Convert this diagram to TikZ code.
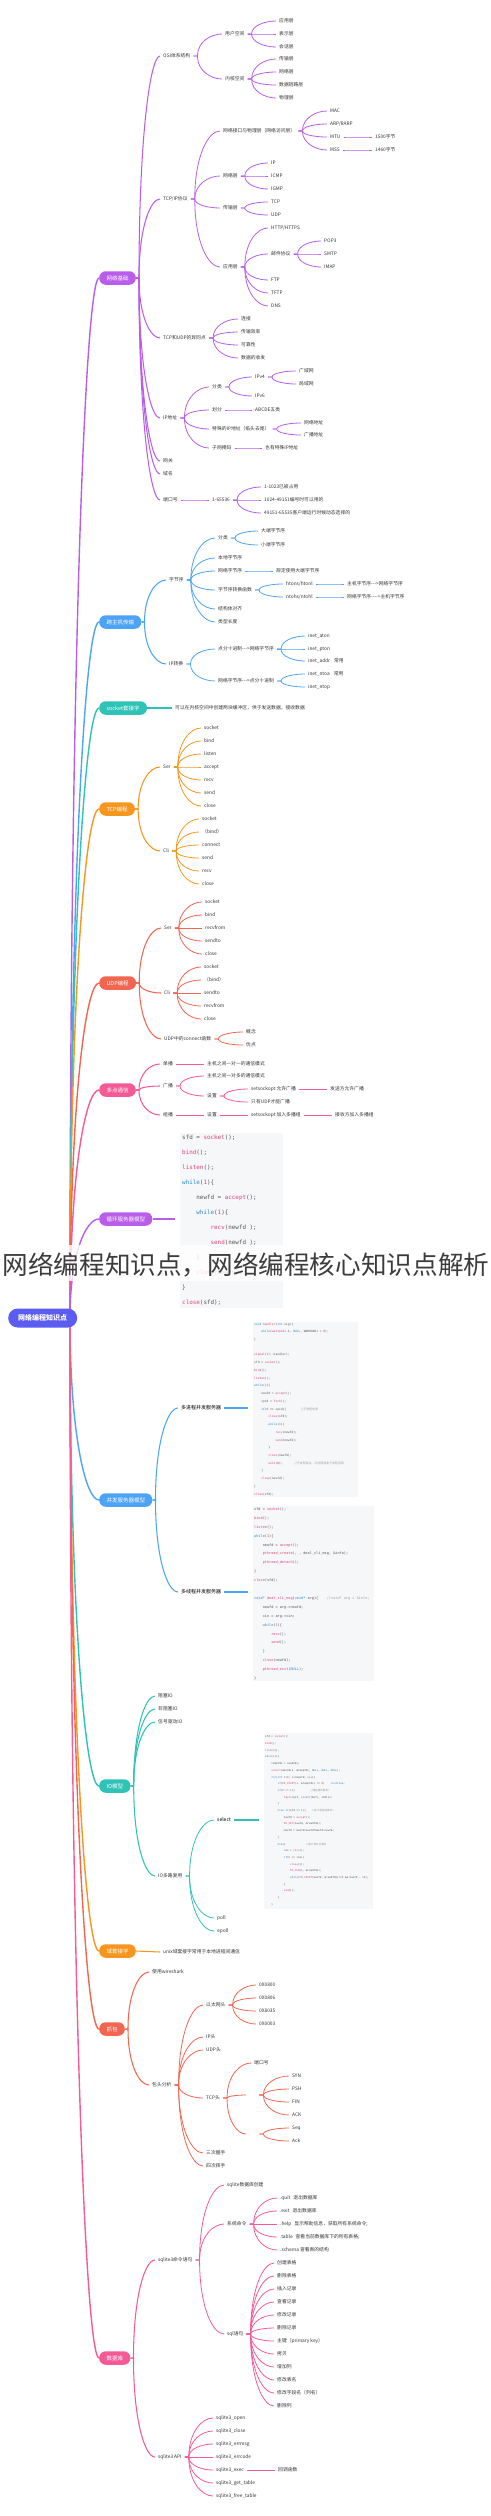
\documentclass[tikz,border=0pt]{standalone}
\usepackage{fontspec}
\setmainfont{Noto Sans CJK SC}
\setmonofont{DejaVu Sans Mono}
\newfontfamily\cjk{Noto Sans CJK SC}
\usetikzlibrary{calc}
\definecolor{cA}{HTML}{B95EEA}
\definecolor{cB}{HTML}{4DA3F7}
\definecolor{cC}{HTML}{2FC2B6}
\definecolor{cD}{HTML}{F7961E}
\definecolor{cE}{HTML}{F26550}
\definecolor{cF}{HTML}{F55A97}
\definecolor{croot}{HTML}{5C5CF2}
\definecolor{txt}{HTML}{333333}
\definecolor{codebg}{HTML}{F6F7F9}
\definecolor{ctx}{HTML}{555555}
\definecolor{cfnc}{HTML}{E2416F}
\definecolor{ckwc}{HTML}{2C8AC8}
\definecolor{ccmc}{HTML}{A0A0A0}
\definecolor{ttl}{HTML}{3C3C3C}
\newcommand\lfs{\fontsize{4.8}{5.5}\selectfont}
\newcommand\cfn[1]{\textcolor{cfnc}{#1}}
\newcommand\ckw[1]{\textcolor{ckwc}{#1}}
\newcommand\ccm[1]{\textcolor{ccmc}{\cjk #1}}
\newcommand\tbi{\hspace*{2.408em}}
\newcommand\cn[2]{\draw[ln] (#1.east) -- ++(4,0) to[br] (#2.west);}
\newcommand\cnm[2]{\draw[ln1] (#1.east) -- ++(3,0) to[br] (#2.west);}
\begin{document}
\begin{tikzpicture}[x=1pt,y=-1pt,
  lf/.style={anchor=west, inner xsep=3pt, inner ysep=1pt, font=\lfs, text=txt},
  bl/.style={lf, font=\fontsize{5}{5.5}\selectfont, text=black},
  mn/.style={anchor=west, fill=#1, text=white, rounded corners=6.5pt, minimum height=13.5pt, inner xsep=7.3pt, inner ysep=0pt, font=\fontsize{5.5}{6}\selectfont},
  br/.style={to path={let \p1=(\tikztostart), \p2=(\tikztotarget) in .. controls (\x1,{(\y2)+0.35*((\y1)-(\y2))}) and ({(\x1)+0.55*((\x2)-(\x1))},\y2) .. (\tikztotarget) \tikztonodes}},
  branch/.style={ln/.style={draw=#1, line width=.8pt}, ln1/.style={draw=#1, line width=1.05pt}, mainln/.style={draw=#1, line width=1.4pt}},
  cbg/.style={fill=codebg, anchor=north west, inner sep=0pt},
  code/.style={anchor=north west, inner sep=0pt, align=left, text=ctx}
]
\useasboundingbox (0,0) rectangle (490,2516);
\coordinate (rootc) at (70,1318);

% ===== 网络基础 =====
\begin{scope}[branch=cA]
\node[mn=cA] (A) at (99,278) {网络基础};
\draw[mainln] (rootc) to[br] (A.west);
\node[lf] (A1) at (160,56) {OSI体系结构};
\node[lf] (A11) at (222,34) {用户空间};
\node[lf] (A12) at (222,79) {内核空间};
\cn{A1}{A11}\cn{A1}{A12}
\foreach \t [count=\i] in {应用层,表示层,会话层} {\node[lf] (A11\i) at (276,{8+13*\i}) {\t}; \cn{A11}{A11\i}}
\foreach \t [count=\i] in {传输层,网络层,数据链路层,物理层} {\node[lf] (A12\i) at (276,{46+13*\i}) {\t}; \cn{A12}{A12\i}}
\node[lf] (A2) at (160,199) {TCP/IP协议};
\node[lf] (A21) at (220,131) {网络接口与物理层（网络访问层）};
\foreach \t [count=\i] in {MAC,ARP/RARP,MTU,MSS} {\node[lf] (A21\i) at (327,{98+13*\i}) {\t}; \cn{A21}{A21\i}}
\node[lf] (A2x) at (372,137) {1500字节}; \cn{A213}{A2x}
\node[lf] (A2y) at (372,150) {1460字节}; \cn{A214}{A2y}
\node[lf] (A22) at (220,176) {网络层};
\foreach \t [count=\i] in {IP,ICMP,IGMP} {\node[lf] (A22\i) at (268,{150+13*\i}) {\t}; \cn{A22}{A22\i}}
\node[lf] (A23) at (220,208) {传输层};
\node[lf] (A231) at (268,202) {TCP}; \node[lf] (A232) at (268,215) {UDP};
\cn{A23}{A231}\cn{A23}{A232}
\node[lf] (A24) at (220,267) {应用层};
\node[lf] (A241) at (268,228) {HTTP/HTTPS};
\node[lf] (A242) at (268,254) {邮件协议};
\node[lf] (A243) at (268,280) {FTP};
\node[lf] (A244) at (268,293) {TFTP};
\node[lf] (A245) at (268,306) {DNS};
\foreach \i in {1,...,5} {\cn{A24}{A24\i}}
\foreach \t [count=\i] in {POP3,SMTP,IMAP} {\node[lf] (Am\i) at (321,{228+13*\i}) {\t}; \cn{A242}{Am\i}}
\cn{A2}{A21}\cn{A2}{A22}\cn{A2}{A23}\cn{A2}{A24}
\node[lf] (A3) at (160,338) {TCP和UDP的异同点};
\foreach \t [count=\i] in {连接,传输效率,可靠性,数据的收发} {\node[lf] (A3\i) at (238,{306+13*\i}) {\t}; \cn{A3}{A3\i}}
\node[lf] (A4) at (160,418) {IP地址};
\node[lf] (A41) at (209,387) {分类};
\node[lf] (A411) at (252,377) {IPv4};
\node[lf] (A412) at (252,396) {IPv6};
\node[lf] (Aw1) at (296,371) {广域网};
\node[lf] (Aw2) at (296,384) {局域网};
\cn{A41}{A411}\cn{A41}{A412}\cn{A411}{Aw1}\cn{A411}{Aw2}
\node[lf] (A42) at (209,410) {划分};
\node[lf] (A421) at (252,410) {ABCDE五类}; \cn{A42}{A421}
\node[lf] (A43) at (209,429) {特殊的IP地址（掐头去尾）};
\node[lf] (A431) at (301,423) {网络地址};
\node[lf] (A432) at (301,435) {广播地址};
\cn{A43}{A431}\cn{A43}{A432}
\node[lf] (A44) at (209,448) {子网掩码};
\node[lf] (A441) at (262,448) {也有特殊IP地址}; \cn{A44}{A441}
\foreach \i in {1,...,4} {\cn{A4}{A4\i}}
\node[lf] (A5) at (160,461) {网关};
\node[lf] (A6) at (160,474) {域名};
\node[lf] (A7) at (160,500) {端口号};
\node[lf] (A71) at (209,500) {1-65536}; \cn{A7}{A71}
\node[lf] (Ap1) at (261,487) {1-1023已被占用};
\node[lf] (Ap2) at (261,500) {1024-49151编号时可以用的};
\node[lf] (Ap3) at (261,513) {49151-65535客户端运行时候动态选择的};
\foreach \i in {1,2,3} {\cn{A71}{Ap\i}}
\foreach \i in {1,...,7} {\cnm{A}{A\i}}
\end{scope}

% ===== 跨主机传输 =====
\begin{scope}[branch=cB]
\node[mn=cB] (B) at (99,622) {跨主机传输};
\draw[mainln] (rootc) to[br] (B.west);
\node[lf] (B1) at (166,580) {字节序};
\node[lf] (B11) at (215,538) {分类};
\node[lf] (Bd1) at (258,531) {大端字节序};
\node[lf] (Bd2) at (258,545) {小端字节序};
\cn{B11}{Bd1}\cn{B11}{Bd2}
\node[lf] (B12) at (215,558) {本地字节序};
\node[lf] (B13) at (215,571) {网络字节序};
\node[lf] (B131) at (273,571) {规定使用大端字节序}; \cn{B13}{B131}
\node[lf] (B14) at (215,590) {字节序转换函数};
\node[lf] (Bh1) at (283,584) {htons/htonl};
\node[lf] (Bh2) at (283,597) {ntohs/ntohl};
\node[lf] (Bh3) at (344,584) {主机字节序-{}-{}->网络字节序};
\node[lf] (Bh4) at (344,597) {网络字节序-{}-{}-{}->主机字节序};
\cn{B14}{Bh1}\cn{B14}{Bh2}\cn{Bh1}{Bh3}\cn{Bh2}{Bh4}
\node[lf] (B15) at (215,609) {结构体对齐};
\node[lf] (B16) at (215,622) {类型长度};
\foreach \i in {1,...,6} {\cn{B1}{B1\i}}
\node[lf] (B2) at (166,664) {IP转换};
\node[lf] (B21) at (215,649) {点分十进制-{}-{}->网络字节序};
\node[lf] (B22) at (215,681) {网络字节序-{}-{}->点分十进制};
\cn{B2}{B21}\cn{B2}{B22}
\node[lf] (Bi1) at (305,636) {inet\_aton};
\node[lf] (Bi2) at (305,649) {inet\_pton};
\node[lf] (Bi3) at (305,661) {inet\_addr\hspace{4pt}常用};
\node[lf] (Bi4) at (305,674) {inet\_ntoa\hspace{4pt}常用};
\node[lf] (Bi5) at (305,687) {inet\_ntop};
\cn{B21}{Bi1}\cn{B21}{Bi2}\cn{B21}{Bi3}\cn{B22}{Bi4}\cn{B22}{Bi5}
\cnm{B}{B1}\cnm{B}{B2}
\end{scope}

% ===== socket =====
\begin{scope}[branch=cC]
\node[mn=cC] (C) at (99,708) {socket套接字};
\draw[mainln] (rootc) to[br] (C.west);
\node[lf] (C1) at (172,708) {可以在内核空间中创建两块缓冲区，供于发送数据，接收数据};
\draw[ln1] (C.east) -- (C1.west);
\end{scope}

% ===== TCP编程 =====
\begin{scope}[branch=cD]
\node[mn=cD] (D) at (99,809) {TCP编程};
\draw[mainln] (rootc) to[br] (D.west);
\node[lf] (D1) at (160,767) {Ser};
\node[lf] (D2) at (160,851) {Cli};
\cnm{D}{D1}\cnm{D}{D2}
\foreach \t [count=\i] in {socket,bind,listen,accept,recv,send,close} {\node[lf] (Ds\i) at (201,{715+13*\i}) {\t}; \cn{D1}{Ds\i}}
\foreach \t [count=\i] in {socket,（bind）,connect,send,recv,close} {\node[lf] (Dc\i) at (199,{806+13*\i}) {\t}; \cn{D2}{Dc\i}}
\end{scope}

% ===== UDP编程 =====
\begin{scope}[branch=cE]
\node[mn=cE] (E) at (99,983) {UDP编程};
\draw[mainln] (rootc) to[br] (E.west);
\node[lf] (E1) at (161,928) {Ser};
\node[lf] (E2) at (161,993) {Cli};
\node[lf] (E3) at (161,1039) {UDP中的connect函数};
\cnm{E}{E1}\cnm{E}{E2}\cnm{E}{E3}
\foreach \t [count=\i] in {socket,bind,recvfrom,sendto,close} {\node[lf] (Es\i) at (202,{889+13*\i}) {\t}; \cn{E1}{Es\i}}
\foreach \t [count=\i] in {socket,（bind）,sendto,recvfrom,close} {\node[lf] (Ec\i) at (201,{954+13*\i}) {\t}; \cn{E2}{Ec\i}}
\node[lf] (E31) at (243,1032) {概念};
\node[lf] (E32) at (243,1045) {优点};
\cn{E3}{E31}\cn{E3}{E32}
\end{scope}

% ===== 多点通信 =====
\begin{scope}[branch=cF]
\node[mn=cF] (F) at (99,1090) {多点通信};
\draw[mainln] (rootc) to[br] (F.west);
\node[lf] (F1) at (160,1064) {单播};
\node[lf] (F2) at (160,1086) {广播};
\node[lf] (F3) at (160,1115) {组播};
\cnm{F}{F1}\cnm{F}{F2}\cnm{F}{F3}
\node[lf] (F11) at (204,1064) {主机之间一对一的通信模式}; \cn{F1}{F11}
\node[lf] (F21) at (204,1076) {主机之间一对多的通信模式};
\node[lf] (F22) at (204,1096) {设置};
\cn{F2}{F21}\cn{F2}{F22}
\node[lf] (F221) at (248,1089) {setsockopt 允许广播};
\node[lf] (F222) at (248,1102) {只有UDP才能广播};
\cn{F22}{F221}\cn{F22}{F222}
\node[lf] (F2211) at (327,1089) {发送方允许广播}; \cn{F221}{F2211}
\node[lf] (F31) at (204,1115) {设置}; \cn{F3}{F31}
\node[lf] (F311) at (248,1115) {setsockopt 加入多播组}; \cn{F31}{F311}
\node[lf] (F3111) at (332,1115) {接收方加入多播组}; \cn{F311}{F3111}
\end{scope}

% ===== 循环服务器模型 =====
\begin{scope}[branch=cA]
\node[mn=cA] (G) at (99,1219) {循环服务器模型};
\draw[mainln] (rootc) to[br] (G.west);
\node[cbg, minimum width=103pt, minimum height=175pt] (cb1) at (180,1133) {};
\node[code, font=\fontsize{5.9}{15}\selectfont\ttfamily] (code1) at (182,1135) {%
sfd = \cfn{socket}();\\
\cfn{bind}();\\
\cfn{listen}();\\
\ckw{while}(\cfn{1})\{\\
\tbi newfd = \cfn{accept}();\\
\tbi\ckw{while}(\cfn{1})\{\\
\tbi\tbi\cfn{recv}(newfd );\\
\tbi\tbi\cfn{send}(newfd );\\
\tbi\}\\
\tbi\cfn{close}(newfd);\\
\}\\
\cfn{close}(sfd);};
\draw[ln1] (G.east) -- ([xshift=-5pt]G.east -| cb1.west);
\end{scope}

% ===== 并发服务器模型 =====
\begin{scope}[branch=cB]
\node[mn=cB] (H) at (99,1500) {并发服务器模型};
\draw[mainln] (rootc) to[br] (H.west);
\node[bl] (H1) at (178,1408) {多进程并发服务器};
\node[bl] (H2) at (178,1592) {多线程并发服务器};
\cnm{H}{H1}\cnm{H}{H2}
\node[cbg, minimum width=105pt, minimum height=175pt] (cb2) at (253,1322) {};
\node[code, font=\fontsize{2.95}{7.73}\selectfont\ttfamily] (code2) at (254,1322.6) {%
\ckw{void} \cfn{handler}(\ckw{int} sig)\{\\
\tbi\ckw{while}(\cfn{waitpid}(-1, \ckw{NULL}, WNOHANG) > \cfn{0});\\
\}\\
\mbox{}\\
\cfn{signal}(\cfn{17}, handler);\\
sfd = \cfn{socket}();\\
\cfn{bind}();\\
\cfn{listen}();\\
\ckw{while}(\cfn{1})\{\\
\tbi newfd = \cfn{accept}();\\
\tbi cpid = \cfn{fork}();\\
\tbi\ckw{if}(\cfn{0} == cpid)\{\hspace*{5em}\ccm{//子进程处理}\\
\tbi\tbi\cfn{close}(sfd);\\
\tbi\tbi\ckw{while}(\cfn{1})\{\\
\tbi\tbi\tbi\cfn{recv}(newfd);\\
\tbi\tbi\tbi\cfn{send}(newfd);\\
\tbi\tbi\}\\
\tbi\tbi\cfn{close}(newfd);\\
\tbi\tbi\cfn{exit}(\cfn{0});\hspace*{4em}\ccm{//子进程退出，父进程回收子进程资源}\\
\tbi\}\\
\tbi\cfn{close}(newfd);\\
\}\\
\cfn{close}(sfd);};
\draw[ln1] (H1.east) -- ([xshift=-5pt]H1.east -| cb2.west);
\node[cbg, minimum width=121pt, minimum height=175pt] (cb3) at (253,1506) {};
\node[code, font=\fontsize{3.55}{8.9}\selectfont\ttfamily] (code3) at (254,1507.5) {%
sfd = \cfn{socket}();\\
\cfn{bind}();\\
\cfn{listen}();\\
\ckw{while}(\cfn{1})\{\\
\tbi newfd = \cfn{accept}();\\
\tbi\cfn{pthread\_create}(, , deal\_cli\_msg, \&info);\\
\tbi\cfn{pthread\_detach}();\\
\}\\
\cfn{close}(sfd);\\
\mbox{}\\
\ckw{void*} \cfn{deal\_cli\_msg}(\ckw{void*} arg)\{\hspace*{2.4em}\textcolor{ccmc}{//void* arg = \&info;}\\
\tbi newfd = arg->newfd;\\
\tbi cin = arg->cin;\\
\tbi\ckw{while}(\cfn{1})\{\\
\tbi\tbi\cfn{recv}();\\
\tbi\tbi\cfn{send}();\\
\tbi\}\\
\tbi\cfn{close}(newfd);\\
\tbi\cfn{pthread\_exit}(\ckw{NULL});\\
\}};
\draw[ln1] (H2.east) -- ([xshift=-5pt]H2.east -| cb3.west);
\end{scope}

% ===== IO模型 =====
\begin{scope}[branch=cC]
\node[mn=cC] (I) at (99,1786) {IO模型};
\draw[mainln] (rootc) to[br] (I.west);
\node[lf] (I1) at (155,1696) {阻塞IO};
\node[lf] (I2) at (155,1709) {非阻塞IO};
\node[lf] (I3) at (155,1722) {信号驱动IO};
\node[lf] (I4) at (155,1876) {IO多路复用};
\foreach \i in {1,...,4} {\cnm{I}{I\i}}
\node[bl] (I41) at (214,1820) {select};
\node[lf] (I42) at (214,1918) {poll};
\node[lf] (I43) at (214,1931) {epoll};
\cn{I4}{I41}\cn{I4}{I42}\cn{I4}{I43}
\node[cbg, minimum width=109pt, minimum height=176pt] (cb4) at (264,1733) {};
\node[code, font=\fontsize{2.6}{6.7}\selectfont\ttfamily] (code4) at (265,1735.6) {%
sfd = \cfn{socket}();\\
\cfn{bind}();\\
\cfn{listen}();\\
\ckw{while}(\cfn{1})\{\\
\tbi tempfds = readfds;\\
\tbi\cfn{select}(maxfd+1, \&tempfds, \ckw{NULL}, \ckw{NULL}, \ckw{NULL});\\
\tbi\ckw{for}(\ckw{int} i=\cfn{0}; i<=maxfd; i++)\{\\
\tbi\tbi\ckw{if}(\cfn{FD\_ISSET}(i, \&tempfds) == \cfn{0})\hspace*{2.4em}\ckw{continue};\\
\tbi\tbi\ckw{if}(\cfn{0} == i)\{\hspace*{6em}\ccm{//键盘事件触发？}\\
\tbi\tbi\tbi\cfn{fgets}(buf, \ckw{sizeof}(buf), stdin);\\
\tbi\tbi\}\\
\tbi\tbi\ckw{else if}(sfd == i)\{\hspace*{2.4em}\ccm{//客户端连接事件？}\\
\tbi\tbi\tbi newfd = \cfn{accept}();\\
\tbi\tbi\tbi\cfn{FD\_SET}(newfd, \&readfds);\\
\tbi\tbi\tbi maxfd = maxfd>newfd?maxfd:newfd;\\
\tbi\tbi\}\\
\tbi\tbi\ckw{else}\{\hspace*{8em}\ccm{//客户端交互事件}\\
\tbi\tbi\tbi res = \cfn{recv}();\\
\tbi\tbi\tbi\ckw{if}(\cfn{0} == res)\{\\
\tbi\tbi\tbi\tbi\cfn{close}(i);\\
\tbi\tbi\tbi\tbi\cfn{FD\_CLR}(i, \&readfds);\\
\tbi\tbi\tbi\tbi\ckw{while}(\cfn{FD\_ISSET}(maxfd, \&readfds)==\cfn{0} \&\& maxfd-{}- >\cfn{0});\\
\tbi\tbi\tbi\}\\
\tbi\tbi\tbi\cfn{send}();\\
\tbi\tbi\}\\
\tbi\}};
\draw[ln1] (I41.east) -- ([xshift=-5pt]I41.east -| cb4.west);
\end{scope}

% ===== 域套接字 =====
\begin{scope}[branch=cD]
\node[mn=cD] (J) at (99,1951) {域套接字};
\draw[mainln] (rootc) to[br] (J.west);
\node[lf] (J1) at (160,1952) {unix域套接字常用于本地进程间通信};
\draw[ln1] (J.east) -- (J1.west);
\end{scope}

% ===== 抓包 =====
\begin{scope}[branch=cE]
\node[mn=cE] (K) at (99,2029) {抓包};
\draw[mainln] (rootc) to[br] (K.west);
\node[lf] (K1) at (149,1972) {使用wireshark};
\node[lf] (K2) at (149,2085) {包头分析};
\cnm{K}{K1}\cnm{K}{K2}
\node[lf] (K21) at (203,2005) {以太网头};
\node[lf] (K22) at (203,2037) {IP头};
\node[lf] (K23) at (203,2050) {UDP头};
\node[lf] (K24) at (203,2098) {TCP头};
\node[lf] (K25) at (203,2153) {三次握手};
\node[lf] (K26) at (203,2166) {四次挥手};
\foreach \i in {1,...,6} {\cn{K2}{K2\i}}
\foreach \t [count=\i] in {0X0800,0X0806,0X8035,0X0003} {\node[lf] (Ke\i) at (256,{1972+13*\i}) {\t}; \cn{K21}{Ke\i}}
\node[lf] (Kt1) at (251,2063) {端口号};
\node[lf, minimum width=13pt] (Kt2) at (246,2095) {};
\node[lf, minimum width=13pt] (Kt3) at (246,2134) {};
\cn{K24}{Kt1}\cn{K24}{Kt2}\cn{K24}{Kt3}
\foreach \t [count=\i] in {SYN,PSH,FIN,ACK} {\node[lf] (Kf\i) at (289,{2063+13*\i}) {\t}; \cn{Kt2}{Kf\i}}
\node[lf] (Kq1) at (289,2128) {Seq};
\node[lf] (Kq2) at (289,2141) {Ack};
\cn{Kt3}{Kq1}\cn{Kt3}{Kq2}
\end{scope}

% ===== 数据库 =====
\begin{scope}[branch=cF]
\node[mn=cF] (L) at (99,2358) {数据库};
\draw[mainln] (rootc) to[br] (L.west);
\node[lf] (L1) at (155,2260) {sqlite3命令语句};
\node[lf] (L2) at (155,2457) {sqlite3 API};
\cnm{L}{L1}\cnm{L}{L2}
\node[lf] (L11) at (224,2185) {sqlite数据库创建};
\node[lf] (L12) at (224,2224) {系统命令};
\node[lf] (L13) at (224,2334) {sql语句};
\cn{L1}{L11}\cn{L1}{L12}\cn{L1}{L13}
\foreach \t [count=\i] in {{.quit\hspace{3pt}退出数据库},{.exit\hspace{3pt}退出数据库},{.help\hspace{3pt}显示帮助信息，获取所有系统命令;},{.table\hspace{3pt}查看当前数据库下的所有表格;},{.schema 查看表的结构}}
  {\node[lf] (sy\i) at (277,{2185+13*\i}) {\t}; \cn{L12}{sy\i}}
\foreach \t [count=\i] in {创建表格,删除表格,插入记录,查看记录,修改记录,删除记录,主键（primary key）,拷贝,增加列,修改表名,修改字段名（列名）,删除列}
  {\node[lf] (sq\i) at (274,{2250+13*\i}) {\t}; \cn{L13}{sq\i}}
\foreach \t [count=\i] in {sqlite3\_open,sqlite3\_close,sqlite3\_errmsg,sqlite3\_errcode,sqlite3\_exec,sqlite3\_get\_table,sqlite3\_free\_table}
  {\node[lf] (ap\i) at (213,{2405+13*\i}) {\t}; \cn{L2}{ap\i}}
\node[lf] (cb) at (275,2470) {回调函数}; \cn{ap5}{cb}
\end{scope}

% ===== root =====
\node[anchor=west, fill=croot, text=white, rounded corners=9.5pt, minimum height=19pt, inner xsep=10pt, inner ysep=0pt, font=\fontsize{7}{8}\selectfont\bfseries] (R) at (8,1318) {网络编程知识点};

% ===== title overlay =====
\fill[white, opacity=.8] (0,1245) rectangle (490,1281);
\node[inner sep=0pt, text=ttl, font=\fontsize{25.6}{27}\selectfont] (title) at (246,1264.5) {网络编程知识点，网络编程核心知识点解析};
\end{tikzpicture}
\end{document}
